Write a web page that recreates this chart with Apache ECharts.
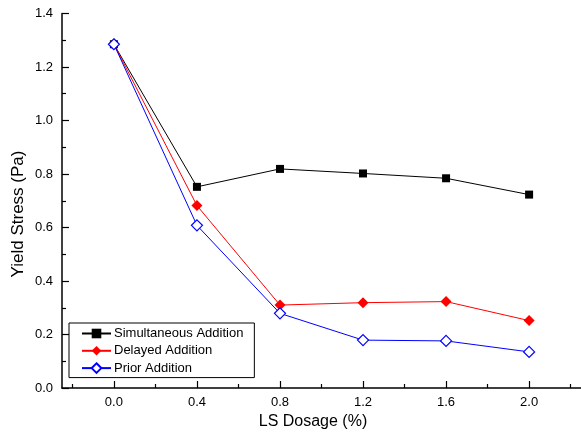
<!DOCTYPE html>
<html>
<head>
<meta charset="utf-8">
<script src="https://cdn.jsdelivr.net/npm/echarts@6/dist/echarts.min.js"></script>
<style>html,body{margin:0;padding:0;background:#fff}#c{width:581px;height:443px}</style>
</head>
<body>
<div id="c"></div>
<script>
var dosage = [0.0, 0.4, 0.8, 1.2, 1.6, 2.0];
var simultaneous = [1.285, 0.752, 0.819, 0.802, 0.784, 0.723];
var delayed = [1.285, 0.682, 0.310, 0.319, 0.323, 0.252];
var prior = [1.285, 0.608, 0.279, 0.179, 0.176, 0.135];
var xMajor = [0.0, 0.4, 0.8, 1.2, 1.6, 2.0];
var xMinor = [-0.2, 0.2, 0.6, 1.0, 1.4, 1.8, 2.2];
var seriesNames = ['Simultaneous Addition', 'Delayed Addition', 'Prior Addition'];

function pairs(ys) { return dosage.map(function (x, i) { return [x, ys[i]]; }); }

var font = 'Liberation Sans, Arial, sans-serif';
var chart = echarts.init(document.getElementById('c'), null, {renderer: 'canvas'});
chart.setOption({
  animation: false,
  backgroundColor: '#fff',
  grid: {left: 62, top: 13.5, width: 522, height: 374.5, containLabel: false},
  xAxis: [{
    type: 'value', min: -0.25, max: 2.25, position: 'bottom',
    axisLine: {onZero: false, lineStyle: {color: '#000', width: 1.5}},
    axisTick: {inside: true, length: 7, lineStyle: {color: '#000', width: 1.2}, customValues: xMajor},
    axisLabel: {color: '#000', fontSize: 13, fontFamily: font, margin: 8, customValues: xMajor,
      formatter: function (v) { return v.toFixed(1); }},
    splitLine: {show: false}
  }, {
    type: 'value', min: -0.25, max: 2.25, position: 'bottom',
    axisLine: {show: false, onZero: false},
    axisTick: {inside: true, length: 4, lineStyle: {color: '#000', width: 1.2}, customValues: xMinor},
    axisLabel: {show: false},
    splitLine: {show: false}
  }],
  yAxis: {
    type: 'value', min: 0, max: 1.4, interval: 0.2,
    axisLine: {show: true, onZero: false, lineStyle: {color: '#000', width: 1.5}},
    axisTick: {show: true, inside: true, length: 7, lineStyle: {color: '#000', width: 1.2}},
    minorTick: {show: true, splitNumber: 2, length: 4, lineStyle: {color: '#000', width: 1.2}},
    axisLabel: {color: '#000', fontSize: 13, fontFamily: font, margin: 9,
      formatter: function (v) { return v.toFixed(1); }},
    splitLine: {show: false}
  },
  legend: {
    orient: 'vertical', left: 69, top: 323,
    padding: [4, 11, 3, 12],
    borderColor: '#000', borderWidth: 1,
    itemWidth: 29, itemHeight: 12, itemGap: 4.3,
    textStyle: {color: '#000', fontSize: 13, fontFamily: font, padding: [0, 0, 0, -2]},
    data: seriesNames
  },
  graphic: [
    {type: 'text', style: {text: 'LS Dosage (%)', font: '16px Liberation Sans, Arial, sans-serif', fill: '#000', textAlign: 'center', textVerticalAlign: 'middle'}, x: 313, y: 422},
    {type: 'text', style: {text: 'Yield Stress (Pa)', font: '17px Liberation Sans, Arial, sans-serif', fill: '#000', textAlign: 'center', textVerticalAlign: 'middle'}, x: 18, y: 214, rotation: Math.PI / 2}
  ],
  series: [{
    name: seriesNames[0], type: 'line', data: pairs(simultaneous),
    symbol: 'rect', symbolSize: 8,
    lineStyle: {color: '#000', width: 1}, itemStyle: {color: '#000'}
  }, {
    name: seriesNames[1], type: 'line', data: pairs(delayed),
    symbol: 'diamond', symbolSize: 11,
    lineStyle: {color: '#ff0000', width: 1}, itemStyle: {color: '#ff0000'}
  }, {
    name: seriesNames[2], type: 'line', data: pairs(prior),
    symbol: 'diamond', symbolSize: 11,
    lineStyle: {color: '#0000ff', width: 1}, itemStyle: {color: '#fff', borderColor: '#0000ff', borderWidth: 1.2}
  }]
});
</script>
</body>
</html>
